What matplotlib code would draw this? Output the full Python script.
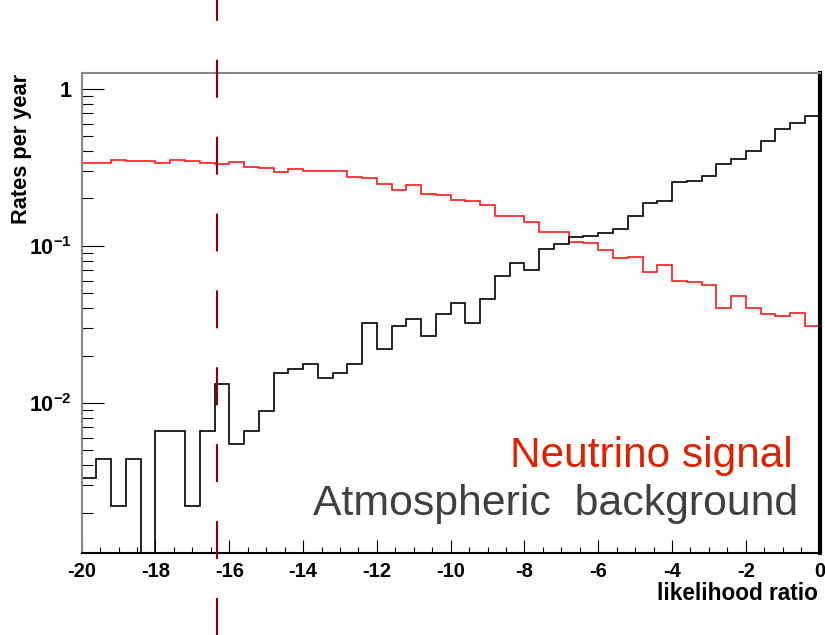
import numpy as np
import matplotlib
matplotlib.use("Agg")
import matplotlib.pyplot as plt
import matplotlib.ticker as ticker
import matplotlib.transforms as transforms
from matplotlib.lines import Line2D

plt.rcParams['font.family'] = ['Liberation Sans', 'DejaVu Sans']
plt.rcParams['axes.unicode_minus'] = False
plt.rcParams['mathtext.fontset'] = 'custom'
plt.rcParams['mathtext.rm'] = 'Liberation Sans:bold'
plt.rcParams['mathtext.it'] = 'Liberation Sans:bold'
plt.rcParams['mathtext.bf'] = 'Liberation Sans:bold'

# 50 bins of likelihood ratio, -20 .. 0
bin_edges = np.linspace(-20, 0, 51)

neutrino_signal = [
    0.335, 0.335, 0.351, 0.345, 0.345, 0.335, 0.350, 0.345, 0.335, 0.330,
    0.341, 0.317, 0.313, 0.295, 0.306, 0.300, 0.298, 0.298, 0.275, 0.269,
    0.248, 0.227, 0.243, 0.213, 0.210, 0.195, 0.192, 0.181, 0.154, 0.155,
    0.142, 0.123, 0.123, 0.106, 0.104, 0.094, 0.083, 0.085, 0.068, 0.075,
    0.060, 0.059, 0.056, 0.040, 0.048, 0.040, 0.0367, 0.0355, 0.0373, 0.0308,
]

atmospheric_background = [
    0.0033, 0.0044, 0.0022, 0.0044, 0.0, 0.0066, 0.0066, 0.0022, 0.0066, 0.0131,
    0.0055, 0.0066, 0.0088, 0.0154, 0.0165, 0.0176, 0.0144, 0.0154, 0.0176, 0.0320,
    0.0220, 0.0308, 0.0343, 0.0265, 0.0366, 0.0432, 0.0320, 0.0458, 0.0639, 0.0776,
    0.0700, 0.0949, 0.1030, 0.1131, 0.1148, 0.1199, 0.1281, 0.1553, 0.1871, 0.1926,
    0.2533, 0.2571, 0.2792, 0.3300, 0.3550, 0.3994, 0.4644, 0.5512, 0.6073, 0.6702,
]

y_ticks = [0.01, 0.1, 1]
y_tick_labels = [r'$10^{-2}$', r'$10^{-1}$', '1']
x_ticks = [-20, -18, -16, -14, -12, -10, -8, -6, -4, -2, 0]
cut_value = -16.34

fig = plt.figure(figsize=(8.25, 6.35), dpi=100)
ax = fig.add_axes([0.099, 0.1296, 0.8945, 0.7559])

ax.stairs(neutrino_signal, bin_edges, baseline=None, color="#ff1a1a", lw=1.2)
ax.stairs(atmospheric_background, bin_edges, baseline=None, color="black", lw=1.2)

ax.set_yscale("log")
ax.set_xlim(-20, 0)
ax.set_ylim(0.00111, 1.264)

ax.xaxis.set_major_locator(ticker.FixedLocator(x_ticks))
ax.xaxis.set_minor_locator(ticker.MultipleLocator(0.5))
ax.yaxis.set_major_locator(ticker.FixedLocator(y_ticks))
ax.yaxis.set_major_formatter(ticker.FixedFormatter(y_tick_labels))
ax.yaxis.set_minor_locator(ticker.LogLocator(subs=np.arange(2, 10)))
ax.yaxis.set_minor_formatter(ticker.NullFormatter())

ax.tick_params(axis="x", which="major", direction="in", length=9.5, width=0.8,
               pad=7, labelsize=14.5, top=False)
ax.tick_params(axis="x", which="minor", direction="in", length=4.5, width=0.8, top=False)
ax.tick_params(axis="y", which="major", direction="in", length=16, width=0.8,
               pad=7, labelsize=15.5, right=False)
ax.tick_params(axis="y", which="minor", direction="in", length=8, width=0.8, right=False)
for lab in ax.get_xticklabels() + ax.get_yticklabels():
    lab.set_fontweight("bold")

ax.spines["left"].set_color("#888888")
ax.spines["top"].set_color("#888888")
ax.spines["left"].set_linewidth(1.5)
ax.spines["top"].set_linewidth(1.5)
ax.spines["bottom"].set_color("black")
ax.spines["bottom"].set_linewidth(1.5)
ax.spines["right"].set_color("black")
ax.spines["right"].set_linewidth(3)

# cut line running over the whole picture
trans = transforms.blended_transform_factory(ax.transData, fig.transFigure)
cut = Line2D([cut_value, cut_value], [1, 0], transform=trans, color="#8b0000",
             lw=1.5, linestyle=(8.2, (18.2, 18.7)), clip_on=False)
fig.add_artist(cut)

fig.text(0.961, 0.265, "Neutrino signal", color="#dd2200", fontsize=30.5,
         ha="right", va="baseline")
fig.text(0.967, 0.189, "Atmospheric  background", color="#404040", fontsize=30.8,
         ha="right", va="baseline")

fig.text(0.991, 0.0551, "likelihood ratio", fontsize=16.3, fontweight="bold",
         ha="right", va="baseline")
fig.text(0.026, 0.765, "Rates per year", fontsize=15.7, fontweight="bold",
         rotation=90, ha="center", va="center")

fig.savefig("out.png", dpi=100)
